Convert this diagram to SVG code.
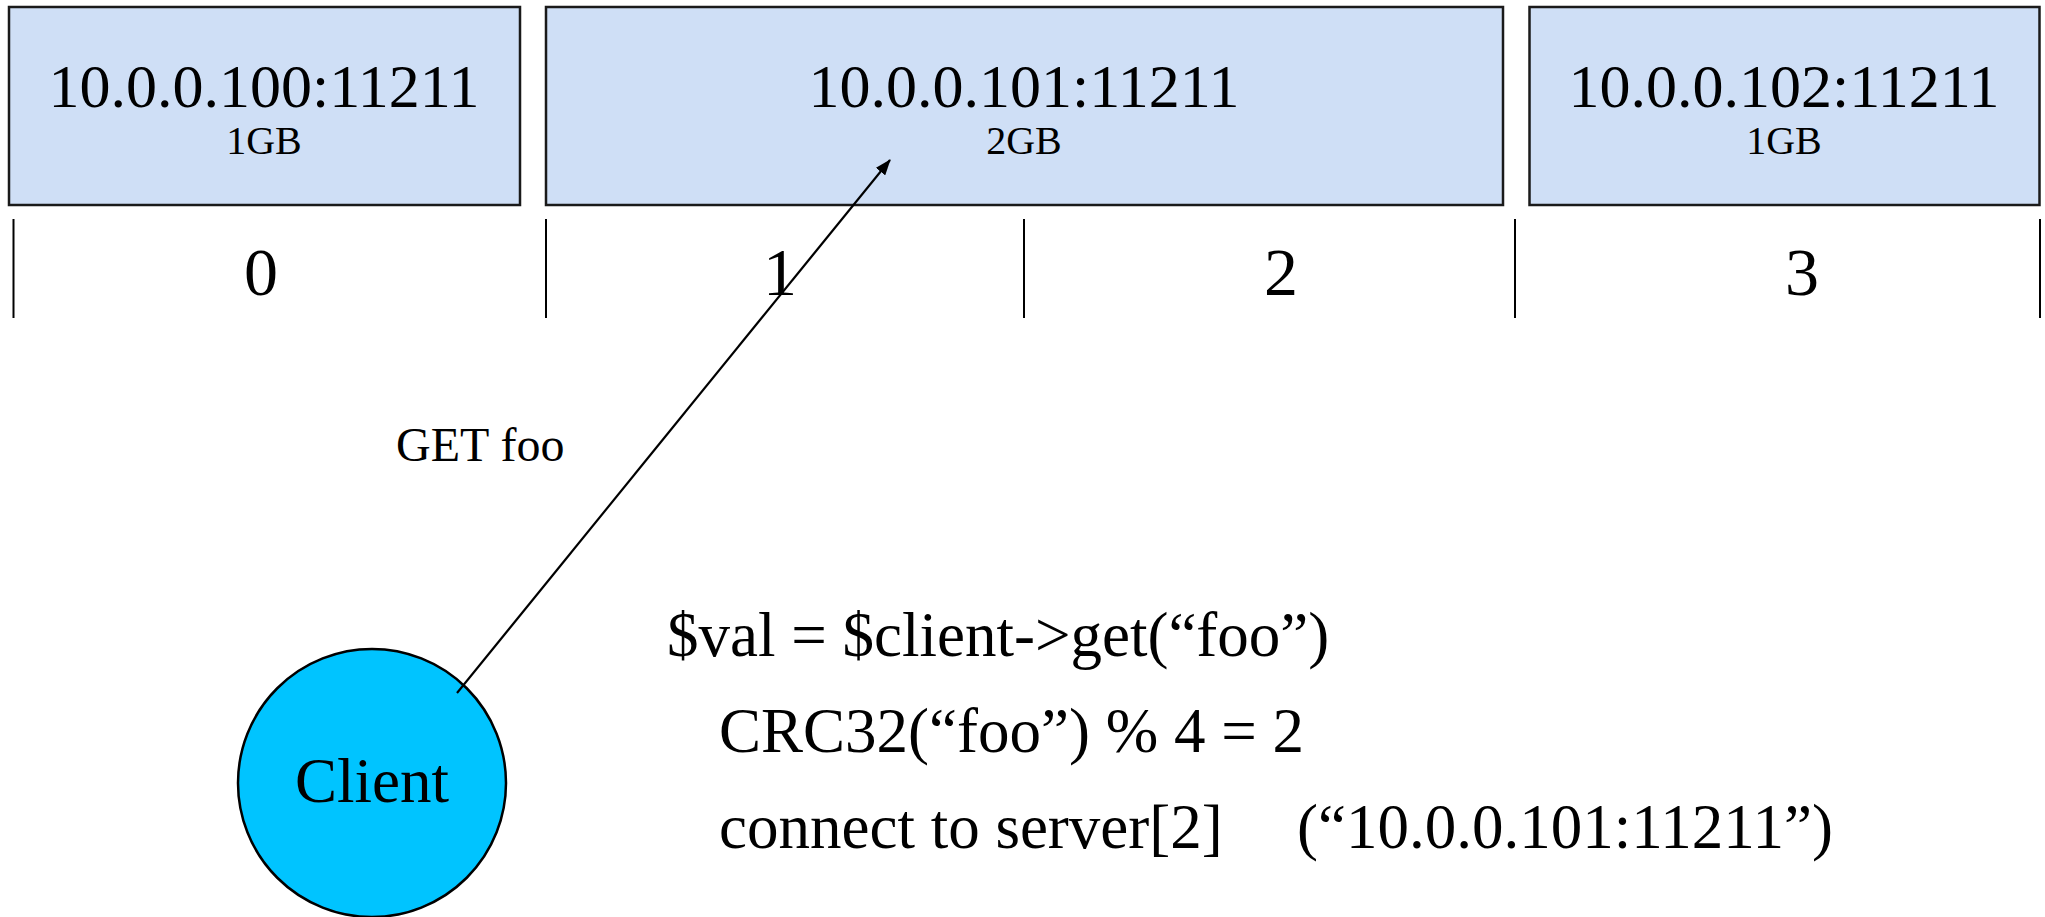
<svg xmlns="http://www.w3.org/2000/svg" width="2045" height="917" viewBox="0 0 2045 917">
<defs>
<style>
.box{fill:#cfdff6;stroke:#1a1a1a;stroke-width:2.5}
.t{font-family:"Liberation Serif","Times New Roman",serif;fill:#000}
.c{text-anchor:middle}
.tick{stroke:#000;stroke-width:2}
</style>
<marker id="ah" viewBox="0 0 16 12" refX="15" refY="6" markerWidth="16" markerHeight="12" markerUnits="userSpaceOnUse" orient="auto">
<path d="M0,0 L16,6 L0,12 z" fill="#000"/>
</marker>
</defs>
<rect width="2045" height="917" fill="#fff"/>
<g id="server0">
<rect class="box" x="9" y="7" width="511" height="198"/>
<text class="t c" x="264" y="107" font-size="62">10.0.0.100:11211</text>
<text class="t c" x="264" y="154" font-size="40">1GB</text>
</g>
<g id="server1">
<rect class="box" x="546" y="7" width="957" height="198"/>
<text class="t c" x="1024" y="107" font-size="62">10.0.0.101:11211</text>
<text class="t c" x="1024" y="154" font-size="40">2GB</text>
</g>
<g id="server2">
<rect class="box" x="1529.5" y="7" width="510" height="198"/>
<text class="t c" x="1784" y="107" font-size="62">10.0.0.102:11211</text>
<text class="t c" x="1784" y="154" font-size="40">1GB</text>
</g>
<g id="buckets">
<line class="tick" x1="13.5" y1="219" x2="13.5" y2="318"/>
<line class="tick" x1="546" y1="219" x2="546" y2="318"/>
<line class="tick" x1="1024" y1="219" x2="1024" y2="318"/>
<line class="tick" x1="1515" y1="219" x2="1515" y2="318"/>
<line class="tick" x1="2040" y1="219" x2="2040" y2="318"/>
<text class="t c" x="261" y="295" font-size="68">0</text>
<text class="t c" x="780" y="295" font-size="68">1</text>
<text class="t c" x="1281" y="295" font-size="68">2</text>
<text class="t c" x="1802" y="295" font-size="68">3</text>
</g>
<g id="client">
<circle cx="372" cy="783" r="134" fill="#00c4ff" stroke="#000" stroke-width="2.5"/>
<text class="t c" x="372" y="802" font-size="63">Client</text>
</g>
<g id="connectors">
<line x1="457" y1="693" x2="890" y2="160" stroke="#000" stroke-width="2.2" marker-end="url(#ah)"/>
<text class="t" x="396" y="461" font-size="48">GET foo</text>
</g>
<g id="code">
<text class="t" x="667" y="656" font-size="63">$val = $client-&gt;get(“foo”)</text>
<text class="t" x="719" y="752" font-size="63">CRC32(“foo”) % 4 = 2</text>
<text class="t" x="719" y="848" font-size="63">connect to server[2]</text>
<text class="t" x="1297" y="848" font-size="63">(“10.0.0.101:11211”)</text>
</g>
</svg>
